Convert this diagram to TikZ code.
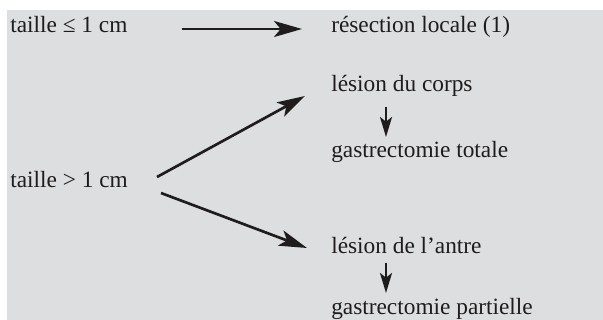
\documentclass[tikz,border=0pt]{standalone}
\usepackage{fontspec}
\setmainfont{Liberation Serif}
\usetikzlibrary{arrows.meta}
\definecolor{bg}{RGB}{221,222,224}
\definecolor{ink}{RGB}{30,28,29}
\begin{document}
\begin{tikzpicture}[x=0.75pt,y=-0.75pt,
  txt/.style={anchor=base west,inner sep=0pt,text=ink,font=\fontsize{17.5}{21}\selectfont},
  arr/.style={-{Stealth[length=21pt,width=12pt,inset=5pt]},line width=2pt,draw=ink},
  darr/.style={-{Stealth[length=15pt,width=9pt,inset=3.5pt]},line width=1.8pt,draw=ink}]
\useasboundingbox (0,0) rectangle (603,320);
\fill[bg] (7,10) rectangle (603,320);
\node[txt] (t1) at (10,33) {taille ≤ 1 cm};
\node[txt] (r1) at (331,33) {résection locale (1)};
\node[txt] (t2) at (10,188) {taille > 1 cm};
\node[txt] (lc) at (331,92) {lésion du corps};
\node[txt] (gt) at (331,158) {gastrectomie totale};
\node[txt] (la) at (331,253) {lésion de l’antre};
\node[txt] (gp) at (331,315) {gastrectomie partielle};
\coordinate (a1s) at (182,29);
\coordinate (a1e) at (302,29);
\coordinate (u1s) at (157,177);
\coordinate (u1e) at (305,96);
\coordinate (d1s) at (161,193);
\coordinate (d1e) at (307,248);
\coordinate (v1s) at (386,107);
\coordinate (v1e) at (386,137);
\coordinate (v2s) at (386,263);
\coordinate (v2e) at (386,293);
\draw[arr] (a1s) -- (a1e);
\draw[arr] (u1s) -- (u1e);
\draw[arr] (d1s) -- (d1e);
\draw[darr] (v1s) -- (v1e);
\draw[darr] (v2s) -- (v2e);
\end{tikzpicture}
\end{document}
